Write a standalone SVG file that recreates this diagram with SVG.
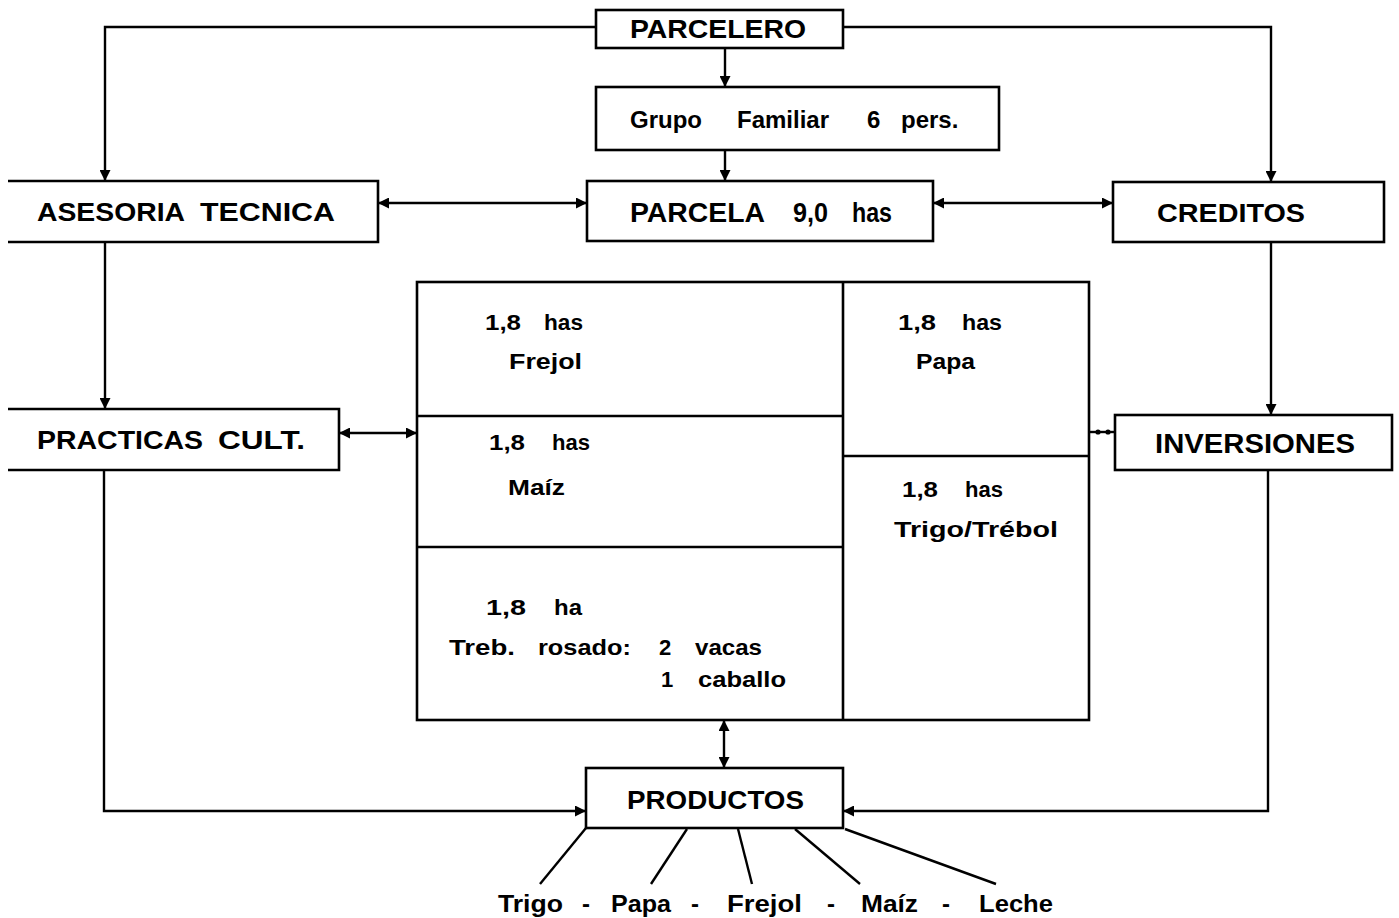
<svg xmlns="http://www.w3.org/2000/svg" width="1399" height="918" viewBox="0 0 1399 918">
<style>
.box{fill:none;stroke:#000;stroke-width:2.6;stroke-linejoin:miter}
.ln{fill:none;stroke:#000;stroke-width:2.4}
.t{font-family:"Liberation Sans",Arial,sans-serif;font-weight:bold;fill:#000}
.cap{font-size:26px}
.sm{font-size:22px}
</style>
<defs>
<marker id="ah" viewBox="0 0 10 10" refX="10" refY="5" markerUnits="userSpaceOnUse" markerWidth="13" markerHeight="11" orient="auto-start-reverse">
<path d="M0,0 L10,5 L0,10 z" fill="#000"/>
</marker>
</defs>
<rect width="1399" height="918" fill="#fff"/>

<g id="connectors">
<path class="ln" d="M596,27 H105 V181" marker-end="url(#ah)"/>
<path class="ln" d="M843,27 H1271 V182" marker-end="url(#ah)"/>
<path class="ln" d="M725,48 V87" marker-end="url(#ah)"/>
<path class="ln" d="M725,150 V181" marker-end="url(#ah)"/>
<path class="ln" d="M378,203 H587" marker-start="url(#ah)" marker-end="url(#ah)"/>
<path class="ln" d="M933,203 H1113" marker-start="url(#ah)" marker-end="url(#ah)"/>
<path class="ln" d="M105,242 V409" marker-end="url(#ah)"/>
<path class="ln" d="M1271,242 V415" marker-end="url(#ah)"/>
<path class="ln" d="M339,433 H417" marker-start="url(#ah)" marker-end="url(#ah)"/>
<path class="ln" d="M1089,432 H1115"/>
<circle cx="1098" cy="432" r="2.6" fill="#000"/>
<circle cx="1108" cy="432" r="2.6" fill="#000"/>
<path class="ln" d="M104,470 V811 H586" marker-end="url(#ah)"/>
<path class="ln" d="M1268,469 V811 H843" marker-end="url(#ah)"/>
<path class="ln" d="M724,720 V768" marker-start="url(#ah)" marker-end="url(#ah)"/>
<path class="ln" d="M586,828 L540,884"/>
<path class="ln" d="M687,829 L651,884"/>
<path class="ln" d="M738,829 L752,884"/>
<path class="ln" d="M795,829 L860,884"/>
<path class="ln" d="M845,829 L996,884"/>
</g>

<g id="parcelero">
<rect class="box" x="596" y="10" width="247" height="38"/>
<text class="t cap" x="630" y="38" textLength="176" lengthAdjust="spacingAndGlyphs">PARCELERO</text>
</g>

<g id="grupo-familiar">
<rect class="box" x="596" y="87" width="403" height="63"/>
<text class="t" font-size="24" y="128"><tspan x="630">Grupo</tspan><tspan x="737">Familiar</tspan><tspan x="867">6</tspan><tspan x="901">pers.</tspan></text>
</g>

<g id="asesoria-tecnica">
<path class="box" d="M8,181 H378 V242 H8"/>
<text class="t" font-size="26" y="221"><tspan x="37" textLength="148" lengthAdjust="spacingAndGlyphs">ASESORIA</tspan><tspan x="200" textLength="135" lengthAdjust="spacingAndGlyphs">TECNICA</tspan></text>
</g>

<g id="parcela">
<rect class="box" x="587" y="181" width="346" height="60"/>
<text class="t" font-size="27" y="222"><tspan x="630" textLength="135" lengthAdjust="spacingAndGlyphs">PARCELA</tspan><tspan x="793" textLength="35" lengthAdjust="spacingAndGlyphs">9,0</tspan><tspan x="852" textLength="40" lengthAdjust="spacingAndGlyphs">has</tspan></text>
</g>

<g id="creditos">
<rect class="box" x="1113" y="182" width="271" height="60"/>
<text class="t cap" x="1157" y="222" textLength="148" lengthAdjust="spacingAndGlyphs">CREDITOS</text>
</g>

<g id="practicas-cult">
<path class="box" d="M8,409 H339 V470 H8"/>
<text class="t" font-size="25" y="449"><tspan x="37" textLength="166" lengthAdjust="spacingAndGlyphs">PRACTICAS</tspan><tspan x="218" textLength="87" lengthAdjust="spacingAndGlyphs">CULT.</tspan></text>
</g>

<g id="inversiones">
<rect class="box" x="1115" y="415" width="277" height="55"/>
<text class="t" font-size="27" x="1155" y="453" textLength="200" lengthAdjust="spacingAndGlyphs">INVERSIONES</text>
</g>

<g id="parcela-detalle">
<rect class="box" x="417" y="282" width="672" height="438"/>
<path class="box" d="M843,282 V720 M417,416 H843 M417,547 H843 M843,456 H1089"/>
<text class="t sm" y="330"><tspan x="485" textLength="36" lengthAdjust="spacingAndGlyphs">1,8</tspan><tspan x="544" textLength="39" lengthAdjust="spacingAndGlyphs">has</tspan></text>
<text class="t sm" x="509" y="369" textLength="73" lengthAdjust="spacingAndGlyphs">Frejol</text>
<text class="t sm" y="450"><tspan x="489" textLength="36" lengthAdjust="spacingAndGlyphs">1,8</tspan><tspan x="552" textLength="38" lengthAdjust="spacingAndGlyphs">has</tspan></text>
<text class="t sm" x="508" y="495" textLength="57" lengthAdjust="spacingAndGlyphs">Maíz</text>
<text class="t sm" y="330"><tspan x="898" textLength="38" lengthAdjust="spacingAndGlyphs">1,8</tspan><tspan x="962" textLength="40" lengthAdjust="spacingAndGlyphs">has</tspan></text>
<text class="t sm" x="916" y="369" textLength="59" lengthAdjust="spacingAndGlyphs">Papa</text>
<text class="t sm" y="497"><tspan x="902" textLength="36" lengthAdjust="spacingAndGlyphs">1,8</tspan><tspan x="965" textLength="38" lengthAdjust="spacingAndGlyphs">has</tspan></text>
<text class="t sm" x="894" y="537" textLength="164" lengthAdjust="spacingAndGlyphs">Trigo/Trébol</text>
<text class="t sm" y="615"><tspan x="486" textLength="40" lengthAdjust="spacingAndGlyphs">1,8</tspan><tspan x="554" textLength="28" lengthAdjust="spacingAndGlyphs">ha</tspan></text>
<text class="t sm" y="655"><tspan x="449" textLength="66" lengthAdjust="spacingAndGlyphs">Treb.</tspan><tspan x="538" textLength="93" lengthAdjust="spacingAndGlyphs">rosado:</tspan><tspan x="659">2</tspan><tspan x="695" textLength="67" lengthAdjust="spacingAndGlyphs">vacas</tspan></text>
<text class="t sm" y="687"><tspan x="661">1</tspan><tspan x="698" textLength="88" lengthAdjust="spacingAndGlyphs">caballo</tspan></text>
</g>

<g id="productos">
<rect class="box" x="586" y="768" width="257" height="60"/>
<text class="t cap" x="627" y="809" textLength="177" lengthAdjust="spacingAndGlyphs">PRODUCTOS</text>
</g>

<g id="lista-productos">
<text class="t" font-size="24" y="912"><tspan x="498" textLength="65" lengthAdjust="spacingAndGlyphs">Trigo</tspan><tspan x="582">-</tspan><tspan x="611" textLength="60" lengthAdjust="spacingAndGlyphs">Papa</tspan><tspan x="691">-</tspan><tspan x="727" textLength="75" lengthAdjust="spacingAndGlyphs">Frejol</tspan><tspan x="827">-</tspan><tspan x="861" textLength="57" lengthAdjust="spacingAndGlyphs">Maíz</tspan><tspan x="942">-</tspan><tspan x="979" textLength="74" lengthAdjust="spacingAndGlyphs">Leche</tspan></text>
</g>
</svg>
